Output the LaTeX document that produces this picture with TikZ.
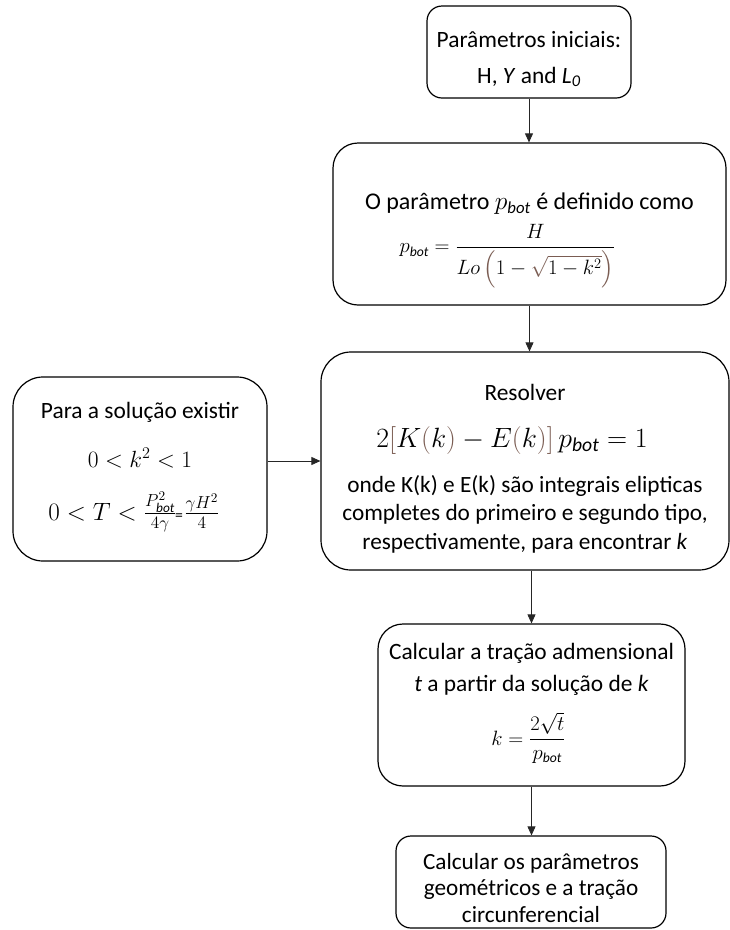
\documentclass[tikz,border=0pt]{standalone}
\usepackage{fontspec}
\usepackage{amsmath}
\usepackage{graphicx}
\setmainfont{Carlito}
\usetikzlibrary{arrows.meta}
\definecolor{brk}{RGB}{122,92,82}
\newcommand{\bt}{\mathit{bot}}
% base size with a fixed line pitch inside a box
\newcommand{\sz}[1]{\fontsize{19.5}{#1}\selectfont\lineskiplimit=-100pt\relax}
% one line of a box, enlarged by a factor
\newcommand{\enl}[2]{\scalebox{#1}{#2}}
% invisible struts that fix the height of the first line and the depth of the last
\newcommand{\toph}[1]{\rule{0pt}{#1pt}}
\newcommand{\botd}[1]{\rule[-#1pt]{0pt}{#1pt}}
\tikzset{
  box/.style={draw=black, line width=1.2pt, fill=white, align=center, inner sep=0pt},
  arr/.style={draw=black!85, line width=0.8pt, -{Triangle[length=9pt,width=8pt]}},
}
\begin{document}
\begin{tikzpicture}[x=1pt,y=-1pt]
\useasboundingbox (0,0) rectangle (730,930);

\node[box, rounded corners=15pt, minimum width=204pt, minimum height=92pt,
      font=\sz{36}] (b1) at (529,52)
  {\toph{32}\enl{1.2}{Parâmetros iniciais:}\\
   \enl{1.2}{H, \textit{Υ} and \textit{L}\textsubscript{\textit{0}}}\botd{6}};

\node[box, rounded corners=25pt, minimum width=393pt, minimum height=162pt,
      font=\sz{43}] (b2) at (529.5,224)
  {\toph{50}\enl{1.23}{O parâmetro $p_{\bt}$ é definido como}\\
   \hspace*{-44pt}$\displaystyle p_{\bt}=\frac{H}{Lo\,\textcolor{brk}{\Big(}1-\textcolor{brk}{\sqrt{\textcolor{black}{1-k^2}}}\textcolor{brk}{\Big)}}$\botd{27}};

\node[box, rounded corners=30pt, minimum width=408pt, minimum height=218pt,
      font=\sz{28.5}] (b3) at (525,461)
  {\toph{33}\enl{1.2}{Resolver}\\[18.5pt]
   \hspace*{-26pt}\enl{1.12}{\fontsize{25}{30}\selectfont $2\textcolor{brk}{[}K\textcolor{brk}{(}k\textcolor{brk}{)}-E\textcolor{brk}{(}k\textcolor{brk}{)}\textcolor{brk}{]}\,p_{\bt}=1$}\\[16.5pt]
   \enl{1.195}{onde K(k) e E(k) são integrais elipticas}\\
   \enl{1.195}{completes do primeiro e segundo tipo,}\\
   \enl{1.195}{respectivamente, para encontrar \textit{k}}\botd{6}};

\node[box, rounded corners=30pt, minimum width=254pt, minimum height=184pt,
      font=\sz{49}] (b4) at (140,469)
  {\toph{17}\enl{1.2}{Para a solução existir}\\
   \enl{1.13}{\fontsize{22}{26}\selectfont $0<k^2<1$}\\[4pt]
   \hspace*{-12pt}\enl{1.21}{\fontsize{22}{26}\selectfont $0<T<\frac{P_{\bt}^2}{4\gamma}$\hspace{-1pt}{\fontsize{13}{13}\selectfont=}\hspace{1pt}$\frac{\gamma H^2}{4}$}\botd{17}};

\node[box, rounded corners=25pt, minimum width=307pt, minimum height=162pt,
      font=\sz{32}] (b5) at (531.5,705)
  {\toph{18}\enl{1.2}{Calcular a tração admensional}\\
   \enl{1.2}{\textit{t} a partir da solução de \textit{k}}\\[22pt]
   \hspace*{-6pt}$\displaystyle k=\frac{2\sqrt{t}}{p_{\bt}}$\botd{24}};

\node[box, rounded corners=15pt, minimum width=270pt, minimum height=92pt,
      font=\sz{26.5}] (b6) at (531,882)
  {\toph{32}\enl{1.19}{Calcular os parâmetros}\\
   \enl{1.19}{geométricos e a tração}\\
   \enl{1.19}{circunferencial}\botd{5}};

\draw[arr] (b1.south) -- (b1.south |- b2.north);
\draw[arr] (b2.south) -- (b2.south |- b3.north);
\draw[arr] (b5.north |- b3.south) -- (b5.north);
\draw[arr] (b5.south) -- (b5.south |- b6.north);
\draw[arr] (b4.east |- b3.west) -- (b3.west);
\end{tikzpicture}
\end{document}
